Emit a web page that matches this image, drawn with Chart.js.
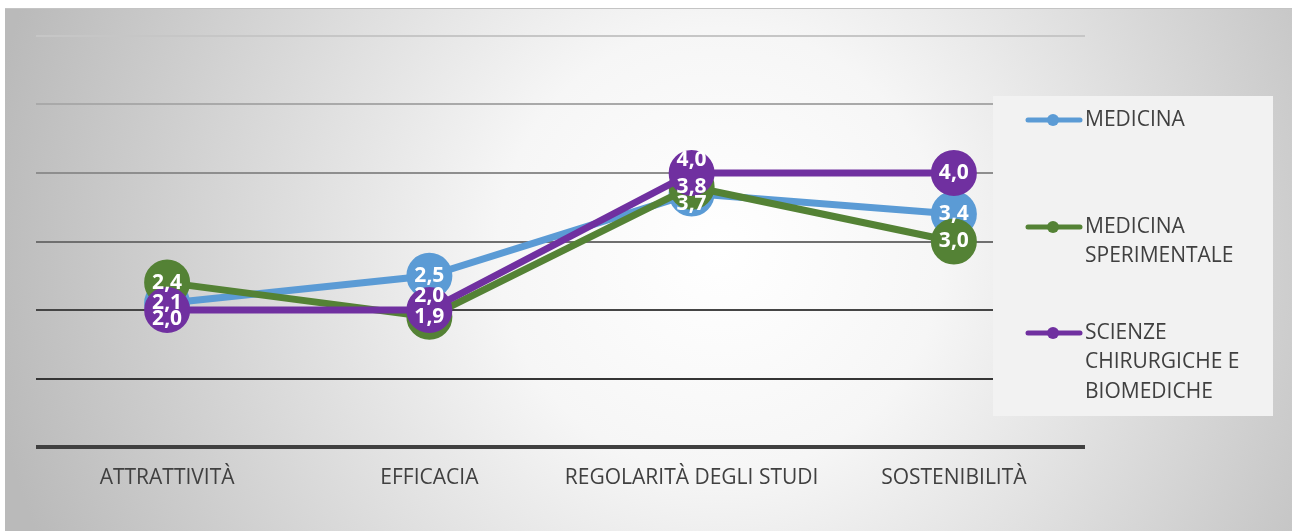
<!DOCTYPE html>
<html>
<head>
<meta charset="utf-8">
<script src="https://cdn.jsdelivr.net/npm/chart.js@4.4.1/dist/chart.umd.min.js"></script>
<style>
  html, body { margin: 0; padding: 0; background: #ffffff; }
  #wrap { position: relative; width: 1292px; height: 531px; }
</style>
</head>
<body>
<div id="wrap"><canvas id="myChart" width="1292" height="531"></canvas></div>
<script>
// chart data
const categories = ["ATTRATTIVITÀ", "EFFICACIA", "REGOLARITÀ DEGLI STUDI", "SOSTENIBILITÀ"];
const medicina = [2.1, 2.5, 3.7, 3.4];
const medicinaSperimentale = [2.4, 1.9, 3.8, 3.0];
const scienzeChirurgiche = [2.0, 2.0, 4.0, 4.0];
const seriesNames = [["MEDICINA"], ["MEDICINA", "SPERIMENTALE"], ["SCIENZE", "CHIRURGICHE E", "BIOMEDICHE"]];
const yTicks = [0, 1, 2, 3, 4, 5, 6];

const colors = ["#5B9BD5", "#548235", "#7030A0"];
const gridColors = { 6: "#c6c6c6", 5: "#a9a9a9", 4: "#8e8e8e", 3: "#6f6f6f", 2: "#454545", 1: "#353535", 0: "#404040" };

// nudges for overlapping labels (pixels), dataset index -> point index
const labelShift = { 0: { 2: 10 }, 2: { 0: 9, 1: -14, 2: -13 } };

const FONT = "'Open Sans', sans-serif";

// background with radial shading
const bgPlugin = {
  id: "bg",
  beforeDraw(chart) {
    const c = chart.ctx;
    c.save();
    c.fillStyle = "#ffffff";
    c.fillRect(0, 0, chart.width, chart.height);
    const g = c.createRadialGradient(720, 250, 0, 720, 250, 740);
    g.addColorStop(0, "#ffffff");
    g.addColorStop(0.3, "#f6f6f6");
    g.addColorStop(1, "#bababa");
    c.fillStyle = g;
    c.fillRect(5, 8, chart.width - 5, chart.height - 8);
    c.fillStyle = "#c4c4c4";
    c.fillRect(5, 8, chart.width - 5, 1);
    c.restore();
  }
};

// value labels on top of all series
const labelPlugin = {
  id: "valueLabels",
  afterDatasetsDraw(chart) {
    const c = chart.ctx;
    c.save();
    c.font = "bold 21px " + FONT;
    c.fillStyle = "#ffffff";
    c.textAlign = "center";
    c.textBaseline = "middle";
    chart.data.datasets.forEach((ds, di) => {
      const meta = chart.getDatasetMeta(di);
      meta.data.forEach((pt, i) => {
        const shift = (labelShift[di] && labelShift[di][i]) || 0;
        const txt = ds.data[i].toFixed(1).replace(".", ",");
        c.fillText(txt, pt.x, pt.y + shift);
      });
    });
    c.restore();
  }
};

// legend box on the right, over the plot
const legendPlugin = {
  id: "boxLegend",
  afterDraw(chart) {
    const c = chart.ctx;
    c.save();
    c.fillStyle = "#f2f2f2";
    c.fillRect(993, 96, 280, 320);
    const rows = [120, 227, 333];
    c.font = "21px " + FONT;
    c.textBaseline = "middle";
    c.textAlign = "left";
    rows.forEach((y, i) => {
      c.strokeStyle = colors[i];
      c.lineWidth = 5;
      c.lineCap = "round";
      c.beginPath();
      c.moveTo(1028, y);
      c.lineTo(1080, y);
      c.stroke();
      c.fillStyle = colors[i];
      c.beginPath();
      c.arc(1053, y, 6, 0, Math.PI * 2);
      c.fill();
      c.fillStyle = "#404040";
      seriesNames[i].forEach((line, j) => {
        c.fillText(line, 1085, y + j * 29.5);
      });
    });
    c.restore();
  }
};

function makeSet(label, data, color, order) {
  return {
    label: label,
    data: data,
    borderColor: color,
    backgroundColor: color,
    pointBackgroundColor: color,
    pointBorderColor: color,
    borderWidth: 7,
    pointRadius: 22,
    pointBorderWidth: 2,
    pointHoverRadius: 22,
    tension: 0,
    order: order,
  };
}

const ctx = document.getElementById("myChart");
const chart = new Chart(ctx, {
  type: "line",
  data: {
    labels: categories,
    datasets: [
      makeSet(seriesNames[0].join(" "), medicina, colors[0], 2),
      makeSet(seriesNames[1].join(" "), medicinaSperimentale, colors[1], 1),
      makeSet(seriesNames[2].join(" "), scienzeChirurgiche, colors[2], 0),
    ],
  },
  options: {
    responsive: false,
    animation: false,
    layout: { padding: { left: 36, right: 207, top: 36, bottom: 0 } },
    plugins: {
      legend: { display: false },
      tooltip: { enabled: false },
    },
    scales: {
      x: {
        offset: true,
        grid: { display: false, drawTicks: false, offset: true },
        border: { display: false },
        ticks: {
          color: "#404040",
          font: { family: FONT, size: 21 },
          padding: 18,
          maxRotation: 0,
          autoSkip: false,
        },
        afterFit: (s) => { s.height = 84; s.paddingLeft = 0; s.paddingRight = 0; },
      },
      y: {
        min: 0,
        max: 6,
        afterBuildTicks: (s) => { s.ticks = yTicks.map((v) => ({ value: v })); },
        grid: {
          drawTicks: false,
          color: (c) => gridColors[c.tick.value],
          lineWidth: (c) => (c.tick.value === 0 ? 4 : 2),
        },
        border: { display: false },
        ticks: { display: false },
        afterFit: (s) => { s.width = 0; },
      },
    },
  },
  plugins: [bgPlugin, labelPlugin, legendPlugin],
});
</script>
</body>
</html>
